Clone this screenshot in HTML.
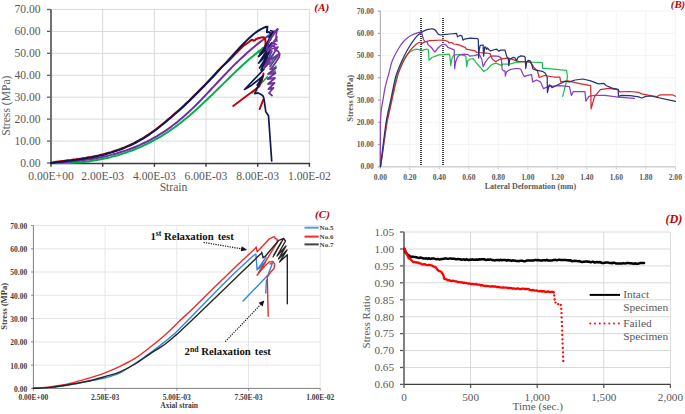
<!DOCTYPE html>
<html><head><meta charset="utf-8"><style>
html,body{margin:0;padding:0;background:#fff;}
body{width:685px;height:414px;overflow:hidden;}
svg{display:block;font-family:"Liberation Serif",serif;}
</style></head><body>
<svg width="685" height="414" viewBox="0 0 685 414">
<rect width="685" height="414" fill="#fff"/>
<line x1="51.0" y1="141.1" x2="309.4" y2="141.1" stroke="#d9d9d9" stroke-width="1" />
<line x1="51.0" y1="119.1" x2="309.4" y2="119.1" stroke="#d9d9d9" stroke-width="1" />
<line x1="51.0" y1="97.2" x2="309.4" y2="97.2" stroke="#d9d9d9" stroke-width="1" />
<line x1="51.0" y1="75.3" x2="309.4" y2="75.3" stroke="#d9d9d9" stroke-width="1" />
<line x1="51.0" y1="53.3" x2="309.4" y2="53.3" stroke="#d9d9d9" stroke-width="1" />
<line x1="51.0" y1="31.4" x2="309.4" y2="31.4" stroke="#d9d9d9" stroke-width="1" />
<line x1="51.0" y1="9.5" x2="309.4" y2="9.5" stroke="#d9d9d9" stroke-width="1" />
<line x1="102.7" y1="9.490000000000009" x2="102.7" y2="163.0" stroke="#d9d9d9" stroke-width="1" />
<line x1="154.4" y1="9.490000000000009" x2="154.4" y2="163.0" stroke="#d9d9d9" stroke-width="1" />
<line x1="206.0" y1="9.490000000000009" x2="206.0" y2="163.0" stroke="#d9d9d9" stroke-width="1" />
<line x1="257.7" y1="9.490000000000009" x2="257.7" y2="163.0" stroke="#d9d9d9" stroke-width="1" />
<line x1="309.4" y1="9.490000000000009" x2="309.4" y2="163.0" stroke="#d9d9d9" stroke-width="1" />
<line x1="47" y1="163.0" x2="51.0" y2="163.0" stroke="#5e5e5e" stroke-width="1.3" />
<text x="40.6" y="166.9" font-size="11.6" fill="#595959" text-anchor="end" font-weight="normal" font-style="normal" >0.00</text>
<line x1="47" y1="141.1" x2="51.0" y2="141.1" stroke="#5e5e5e" stroke-width="1.3" />
<text x="40.6" y="145.0" font-size="11.6" fill="#595959" text-anchor="end" font-weight="normal" font-style="normal" >10.00</text>
<line x1="47" y1="119.1" x2="51.0" y2="119.1" stroke="#5e5e5e" stroke-width="1.3" />
<text x="40.6" y="123.0" font-size="11.6" fill="#595959" text-anchor="end" font-weight="normal" font-style="normal" >20.00</text>
<line x1="47" y1="97.2" x2="51.0" y2="97.2" stroke="#5e5e5e" stroke-width="1.3" />
<text x="40.6" y="101.1" font-size="11.6" fill="#595959" text-anchor="end" font-weight="normal" font-style="normal" >30.00</text>
<line x1="47" y1="75.3" x2="51.0" y2="75.3" stroke="#5e5e5e" stroke-width="1.3" />
<text x="40.6" y="79.2" font-size="11.6" fill="#595959" text-anchor="end" font-weight="normal" font-style="normal" >40.00</text>
<line x1="47" y1="53.3" x2="51.0" y2="53.3" stroke="#5e5e5e" stroke-width="1.3" />
<text x="40.6" y="57.2" font-size="11.6" fill="#595959" text-anchor="end" font-weight="normal" font-style="normal" >50.00</text>
<line x1="47" y1="31.4" x2="51.0" y2="31.4" stroke="#5e5e5e" stroke-width="1.3" />
<text x="40.6" y="35.3" font-size="11.6" fill="#595959" text-anchor="end" font-weight="normal" font-style="normal" >60.00</text>
<line x1="47" y1="9.5" x2="51.0" y2="9.5" stroke="#5e5e5e" stroke-width="1.3" />
<text x="40.6" y="13.4" font-size="11.6" fill="#595959" text-anchor="end" font-weight="normal" font-style="normal" >70.00</text>
<line x1="51.0" y1="163.5" x2="51.0" y2="166.8" stroke="#3a3a3a" stroke-width="1.4" />
<text x="51.0" y="180.3" font-size="11.6" fill="#595959" text-anchor="middle" font-weight="normal" font-style="normal" >0.00E+00</text>
<line x1="102.7" y1="163.5" x2="102.7" y2="166.8" stroke="#3a3a3a" stroke-width="1.4" />
<text x="102.7" y="180.3" font-size="11.6" fill="#595959" text-anchor="middle" font-weight="normal" font-style="normal" >2.00E-03</text>
<line x1="154.4" y1="163.5" x2="154.4" y2="166.8" stroke="#3a3a3a" stroke-width="1.4" />
<text x="154.4" y="180.3" font-size="11.6" fill="#595959" text-anchor="middle" font-weight="normal" font-style="normal" >4.00E-03</text>
<line x1="206.0" y1="163.5" x2="206.0" y2="166.8" stroke="#3a3a3a" stroke-width="1.4" />
<text x="206.0" y="180.3" font-size="11.6" fill="#595959" text-anchor="middle" font-weight="normal" font-style="normal" >6.00E-03</text>
<line x1="257.7" y1="163.5" x2="257.7" y2="166.8" stroke="#3a3a3a" stroke-width="1.4" />
<text x="257.7" y="180.3" font-size="11.6" fill="#595959" text-anchor="middle" font-weight="normal" font-style="normal" >8.00E-03</text>
<line x1="309.4" y1="163.5" x2="309.4" y2="166.8" stroke="#3a3a3a" stroke-width="1.4" />
<text x="309.4" y="180.3" font-size="11.6" fill="#595959" text-anchor="middle" font-weight="normal" font-style="normal" >1.00E-02</text>
<line x1="51.0" y1="9.490000000000009" x2="51.0" y2="163.0" stroke="#6a6a6a" stroke-width="1.9" />
<line x1="50.0" y1="163.5" x2="310.2" y2="163.5" stroke="#3a3a3a" stroke-width="1.4" />
<text x="173.5" y="191.0" font-size="11.6" fill="#595959" text-anchor="middle" font-weight="normal" font-style="normal" >Strain</text>
<text x="0" y="0" font-size="11.6" fill="#595959" text-anchor="middle" font-weight="normal" font-style="normal" transform="translate(9.8,105.7) rotate(-90)">Stress (MPa)</text>
<text x="329.4" y="11.3" font-size="11.4" fill="#c00000" text-anchor="end" font-weight="bold" font-style="italic" >(A)</text>
<polyline points="51.0,163.0 53.5,163.1 56.0,163.1 58.5,163.1 61.0,163.1 63.5,163.1 66.0,163.1 68.5,163.0 71.0,162.9 73.5,162.7 76.0,162.6 78.5,162.4 81.0,162.2 83.5,161.9 86.0,161.7 88.5,161.4 91.0,161.0 93.5,160.6 96.0,160.2 98.5,159.8 101.0,159.3 103.5,158.8 106.0,158.3 108.5,157.7 111.0,157.1 113.5,156.4 116.0,155.7 118.5,155.0 121.0,154.2 123.6,153.4 126.1,152.5 128.7,151.6 131.2,150.7 133.8,149.7 136.4,148.7 138.9,147.6 141.5,146.5 144.0,145.3 146.6,144.1 149.1,142.8 151.7,141.5 154.3,140.2 156.8,138.7 159.4,137.3 161.9,135.8 164.4,134.2 166.9,132.6 169.4,131.0 171.9,129.2 174.4,127.5 176.9,125.6 179.4,123.8 181.9,121.8 184.4,119.8 186.9,117.8 189.4,115.7 191.9,113.5 194.4,111.3 196.9,109.1 199.4,106.8 201.9,104.4 204.4,102.1 206.9,99.7 209.4,97.3 211.9,94.9 214.4,92.4 216.9,90.0 219.4,87.5 221.9,85.1 224.4,82.6 226.9,80.2 229.4,77.7 231.9,75.3 234.4,72.9 236.9,70.5 239.4,68.2 241.9,65.8 244.4,63.6 246.9,61.3 249.4,59.1 251.9,57.0 254.4,54.9 256.9,52.9 259.4,50.9 261.9,49.0 263.9,47.5" fill="none" stroke="#00b050" stroke-width="2" stroke-linejoin="round" stroke-linecap="round" />
<polyline points="51.0,163.0 53.5,162.9 56.0,162.7 58.5,162.5 61.0,162.4 63.5,162.2 66.0,162.0 68.5,161.8 71.0,161.5 73.5,161.3 76.0,161.0 78.5,160.8 81.0,160.5 83.5,160.2 86.0,159.8 88.5,159.5 91.0,159.1 93.5,158.7 96.0,158.2 98.5,157.7 101.0,157.2 103.5,156.7 106.0,156.2 108.5,155.6 111.0,154.9 113.5,154.3 116.0,153.6 118.5,152.8 121.0,152.0 123.6,151.2 126.1,150.4 128.7,149.5 131.2,148.5 133.8,147.5 136.3,146.5 138.9,145.4 141.4,144.2 144.0,143.0 146.5,141.8 149.1,140.5 151.6,139.1 154.2,137.7 156.7,136.3 159.3,134.7 161.8,133.2 164.3,131.5 166.8,129.8 169.3,128.1 171.8,126.2 174.3,124.3 176.8,122.4 179.3,120.3 181.8,118.2 184.3,116.1 186.8,113.8 189.3,111.5 191.8,109.1 194.3,106.7 196.8,104.2 199.3,101.7 201.8,99.1 204.3,96.5 206.8,93.9 209.3,91.2 211.8,88.5 214.3,85.9 216.8,83.2 219.3,80.5 221.8,77.9 224.3,75.2 226.8,72.6 229.3,70.0 231.8,67.4 234.3,64.9 236.8,62.5 239.3,60.1 241.8,57.7 244.3,55.4 246.8,53.1 249.3,50.9 251.8,48.8 254.3,46.7 256.8,44.6 259.3,42.6 261.8,40.7 264.3,38.8 266.8,36.9 269.3,35.1 271.8,33.4 274.3,31.7 276.8,30.1 277.8,29.4" fill="none" stroke="#7030a0" stroke-width="2" stroke-linejoin="round" stroke-linecap="round" />
<polyline points="51.0,162.9 53.5,162.2 56.0,161.8 58.5,161.5 61.0,161.2 63.5,160.9 66.0,160.6 68.5,160.3 71.0,160.0 73.5,159.6 76.0,159.3 78.5,158.9 81.0,158.6 83.5,158.2 86.0,157.8 88.5,157.3 91.0,156.9 93.5,156.4 96.0,155.9 98.5,155.4 101.0,154.8 103.5,154.2 106.0,153.5 108.5,152.8 111.0,152.1 113.5,151.3 116.0,150.5 118.5,149.6 121.0,148.7 123.5,147.8 126.0,146.7 128.5,145.6 131.0,144.5 133.5,143.3 136.0,142.0 138.5,140.7 141.0,139.2 143.5,137.8 146.0,136.2 148.5,134.6 151.0,132.8 153.5,131.0 156.0,129.2 158.5,127.3 161.0,125.3 163.5,123.3 166.0,121.2 168.5,119.1 171.0,117.0 173.5,114.8 176.0,112.6 178.5,110.4 181.0,108.2 183.5,105.9 186.0,103.5 188.5,101.2 191.0,98.8 193.5,96.3 196.0,93.8 198.5,91.3 201.0,88.8 203.5,86.2 206.0,83.6 208.5,81.0 211.0,78.4 213.5,75.7 216.0,73.0 218.5,70.3 221.0,67.6 226.0,63.3 230.0,59.6 235.0,54.3 240.0,49.2 244.0,45.3 248.9,42.0 251.0,40.3 252.5,39.7 253.5,40.8 255.0,40.2 256.2,39.0 259.8,37.8 262.5,37.3 264.3,37.6 265.2,39.5 265.6,42.5 265.3,45.5 264.8,48.0" fill="none" stroke="#c00000" stroke-width="2" stroke-linejoin="round" stroke-linecap="round" />
<polyline points="51.0,163.0 53.5,162.7 56.0,162.3 58.5,162.0 61.0,161.7 63.5,161.4 66.0,161.1 68.5,160.8 71.0,160.5 73.5,160.1 76.0,159.8 78.5,159.4 81.0,159.1 83.5,158.7 86.0,158.3 88.5,157.8 91.0,157.4 93.5,156.9 96.0,156.4 98.5,155.9 101.0,155.3 103.5,154.7 106.0,154.0 108.5,153.3 111.0,152.6 113.5,151.8 116.0,151.0 118.5,150.1 121.0,149.2 123.5,148.3 126.0,147.2 128.5,146.1 131.0,145.0 133.5,143.8 136.0,142.5 138.5,141.2 141.0,139.7 143.5,138.3 146.0,136.7 148.5,135.1 151.0,133.3 153.5,131.5 156.0,129.7 158.5,127.8 161.0,125.8 163.5,123.8 166.0,121.7 168.5,119.6 171.0,117.5 173.5,115.3 176.0,113.1 178.5,110.9 181.0,108.7 183.5,106.4 186.0,104.0 188.5,101.7 191.0,99.3 193.5,96.8 196.0,94.3 198.5,91.8 201.0,89.3 203.5,86.7 206.0,84.1 208.5,81.5 211.0,78.9 213.5,76.2 216.0,73.5 218.5,70.8 221.0,68.1 223.5,65.4 226.0,62.7 228.5,60.0 231.0,57.2 233.5,54.5 236.0,51.7 238.5,49.0 241.0,46.3 243.5,43.7 246.0,41.1 248.5,38.7 251.0,36.4 253.5,34.3 256.0,32.3 258.5,30.6 261.0,29.1 263.5,27.9 265.0,27.3 266.3,26.8 267.4,26.7 266.9,32.3 268.9,32.0 270.8,33.5" fill="none" stroke="#0c1a50" stroke-width="2" stroke-linejoin="round" stroke-linecap="round" />
<polyline points="263.0,47.5 259.5,53.0" fill="none" stroke="#00b050" stroke-width="1.6" stroke-linejoin="round" stroke-linecap="round" />
<polyline points="273.5,54.5 268.5,59.5 275.0,57.0 269.5,64.5" fill="none" stroke="#00b050" stroke-width="1.6" stroke-linejoin="round" stroke-linecap="round" />
<polyline points="252.1,92.9 267.4,76.8" fill="none" stroke="#00b050" stroke-width="1.6" stroke-linejoin="round" stroke-linecap="round" />
<polyline points="276.0,66.0 270.0,73.0 275.5,71.0" fill="none" stroke="#00b050" stroke-width="1.4" stroke-linejoin="round" stroke-linecap="round" />
<polyline points="264.4,47.5 259.0,56.0 264.0,52.0" fill="none" stroke="#c00000" stroke-width="1.6" stroke-linejoin="round" stroke-linecap="round" />
<polyline points="268.9,59.5 264.7,67.3 266.5,62.0" fill="none" stroke="#c00000" stroke-width="1.8" stroke-linejoin="round" stroke-linecap="round" />
<polyline points="233.2,106.0 259.2,86.5 262.0,80.0 263.5,73.5" fill="none" stroke="#c00000" stroke-width="1.9" stroke-linejoin="round" stroke-linecap="round" />
<polyline points="259.7,109.0 263.2,99.8" fill="none" stroke="#c00000" stroke-width="2" stroke-linejoin="round" stroke-linecap="round" />
<polyline points="270.7,30.7 273.1,31.3 263.4,50.0 258.6,56.5 270.1,45.5 258.6,63.1 269.0,53.0 259.5,68.0 267.5,57.5 261.0,70.0 264.0,69.2 244.5,89.5 250.5,86.1 263.1,76.0 257.2,85.3 261.4,79.4 254.7,93.7 258.1,92.9 260.6,94.2 262.7,95.4 264.0,98.8 265.8,111.8 268.5,115.7 271.7,160.9" fill="none" stroke="#0c1a50" stroke-width="1.7" stroke-linejoin="round" stroke-linecap="round" />
<polyline points="272.5,33.4 268.9,37.1 271.5,36.0" fill="none" stroke="#0c1a50" stroke-width="1.6" stroke-linejoin="round" stroke-linecap="round" />
<polyline points="271.5,38.0 261.0,54.0 272.0,42.5 262.0,59.0 270.5,50.0 263.0,63.0" fill="none" stroke="#0c1a50" stroke-width="1.5" stroke-linejoin="round" stroke-linecap="round" />
<polyline points="277.3,29.2 274.9,32.8 269.5,40.1 266.5,50.0 274.3,45.0 274.9,49.8 277.9,51.0 279.7,54.0 279.1,57.0 276.1,61.9 273.1,66.1 270.1,69.1 276.0,68.0 268.0,74.0 275.5,73.0 267.5,79.0 275.0,78.0 268.0,84.0 274.5,83.0 268.5,89.0 273.5,88.0 269.0,93.0 272.0,95.5" fill="none" stroke="#7030a0" stroke-width="1.8" stroke-linejoin="round" stroke-linecap="round" />
<polyline points="276.1,40.7 273.1,43.1 276.5,44.5" fill="none" stroke="#7030a0" stroke-width="1.6" stroke-linejoin="round" stroke-linecap="round" />
<polyline points="271.9,51.0 264.0,68.0 270.0,62.0" fill="none" stroke="#7030a0" stroke-width="1.8" stroke-linejoin="round" stroke-linecap="round" />
<polyline points="277.3,29.2 276.0,36.0 277.0,41.0" fill="none" stroke="#7030a0" stroke-width="1.6" stroke-linejoin="round" stroke-linecap="round" />
<polyline points="277.0,37.0 268.0,50.0 278.0,47.0 268.5,61.0 279.0,54.0 270.0,66.5" fill="none" stroke="#7030a0" stroke-width="1.7" stroke-linejoin="round" stroke-linecap="round" />
<line x1="380.3" y1="144.6" x2="675.3" y2="144.6" stroke="#f3f3f3" stroke-width="1" />
<line x1="380.3" y1="122.3" x2="675.3" y2="122.3" stroke="#f3f3f3" stroke-width="1" />
<line x1="380.3" y1="100.1" x2="675.3" y2="100.1" stroke="#f3f3f3" stroke-width="1" />
<line x1="380.3" y1="77.8" x2="675.3" y2="77.8" stroke="#f3f3f3" stroke-width="1" />
<line x1="380.3" y1="55.6" x2="675.3" y2="55.6" stroke="#f3f3f3" stroke-width="1" />
<line x1="380.3" y1="33.3" x2="675.3" y2="33.3" stroke="#f3f3f3" stroke-width="1" />
<line x1="380.3" y1="11.1" x2="675.3" y2="11.1" stroke="#f3f3f3" stroke-width="1" />
<line x1="409.8" y1="11.050000000000011" x2="409.8" y2="166.8" stroke="#f3f3f3" stroke-width="1" />
<line x1="439.3" y1="11.050000000000011" x2="439.3" y2="166.8" stroke="#f3f3f3" stroke-width="1" />
<line x1="468.8" y1="11.050000000000011" x2="468.8" y2="166.8" stroke="#f3f3f3" stroke-width="1" />
<line x1="498.3" y1="11.050000000000011" x2="498.3" y2="166.8" stroke="#f3f3f3" stroke-width="1" />
<line x1="527.8" y1="11.050000000000011" x2="527.8" y2="166.8" stroke="#f3f3f3" stroke-width="1" />
<line x1="557.3" y1="11.050000000000011" x2="557.3" y2="166.8" stroke="#f3f3f3" stroke-width="1" />
<line x1="586.8" y1="11.050000000000011" x2="586.8" y2="166.8" stroke="#f3f3f3" stroke-width="1" />
<line x1="616.3" y1="11.050000000000011" x2="616.3" y2="166.8" stroke="#f3f3f3" stroke-width="1" />
<line x1="645.8" y1="11.050000000000011" x2="645.8" y2="166.8" stroke="#f3f3f3" stroke-width="1" />
<line x1="675.3" y1="11.050000000000011" x2="675.3" y2="166.8" stroke="#f3f3f3" stroke-width="1" />
<line x1="377.8" y1="166.8" x2="380.3" y2="166.8" stroke="#8c8c8c" stroke-width="0.9" />
<text x="373.9" y="169.4" font-size="7.6" fill="#595959" text-anchor="end" font-weight="bold" font-style="normal" >0.00</text>
<line x1="377.8" y1="144.6" x2="380.3" y2="144.6" stroke="#8c8c8c" stroke-width="0.9" />
<text x="373.9" y="147.2" font-size="7.6" fill="#595959" text-anchor="end" font-weight="bold" font-style="normal" >10.00</text>
<line x1="377.8" y1="122.3" x2="380.3" y2="122.3" stroke="#8c8c8c" stroke-width="0.9" />
<text x="373.9" y="124.9" font-size="7.6" fill="#595959" text-anchor="end" font-weight="bold" font-style="normal" >20.00</text>
<line x1="377.8" y1="100.1" x2="380.3" y2="100.1" stroke="#8c8c8c" stroke-width="0.9" />
<text x="373.9" y="102.7" font-size="7.6" fill="#595959" text-anchor="end" font-weight="bold" font-style="normal" >30.00</text>
<line x1="377.8" y1="77.8" x2="380.3" y2="77.8" stroke="#8c8c8c" stroke-width="0.9" />
<text x="373.9" y="80.4" font-size="7.6" fill="#595959" text-anchor="end" font-weight="bold" font-style="normal" >40.00</text>
<line x1="377.8" y1="55.6" x2="380.3" y2="55.6" stroke="#8c8c8c" stroke-width="0.9" />
<text x="373.9" y="58.2" font-size="7.6" fill="#595959" text-anchor="end" font-weight="bold" font-style="normal" >50.00</text>
<line x1="377.8" y1="33.3" x2="380.3" y2="33.3" stroke="#8c8c8c" stroke-width="0.9" />
<text x="373.9" y="35.9" font-size="7.6" fill="#595959" text-anchor="end" font-weight="bold" font-style="normal" >60.00</text>
<line x1="377.8" y1="11.1" x2="380.3" y2="11.1" stroke="#8c8c8c" stroke-width="0.9" />
<text x="373.9" y="13.7" font-size="7.6" fill="#595959" text-anchor="end" font-weight="bold" font-style="normal" >70.00</text>
<line x1="380.3" y1="166.8" x2="380.3" y2="169.3" stroke="#c8c8c8" stroke-width="1" />
<text x="380.3" y="179.9" font-size="7.6" fill="#595959" text-anchor="middle" font-weight="bold" font-style="normal" >0.00</text>
<line x1="409.8" y1="166.8" x2="409.8" y2="169.3" stroke="#c8c8c8" stroke-width="1" />
<text x="409.8" y="179.9" font-size="7.6" fill="#595959" text-anchor="middle" font-weight="bold" font-style="normal" >0.20</text>
<line x1="439.3" y1="166.8" x2="439.3" y2="169.3" stroke="#c8c8c8" stroke-width="1" />
<text x="439.3" y="179.9" font-size="7.6" fill="#595959" text-anchor="middle" font-weight="bold" font-style="normal" >0.40</text>
<line x1="468.8" y1="166.8" x2="468.8" y2="169.3" stroke="#c8c8c8" stroke-width="1" />
<text x="468.8" y="179.9" font-size="7.6" fill="#595959" text-anchor="middle" font-weight="bold" font-style="normal" >0.60</text>
<line x1="498.3" y1="166.8" x2="498.3" y2="169.3" stroke="#c8c8c8" stroke-width="1" />
<text x="498.3" y="179.9" font-size="7.6" fill="#595959" text-anchor="middle" font-weight="bold" font-style="normal" >0.80</text>
<line x1="527.8" y1="166.8" x2="527.8" y2="169.3" stroke="#c8c8c8" stroke-width="1" />
<text x="527.8" y="179.9" font-size="7.6" fill="#595959" text-anchor="middle" font-weight="bold" font-style="normal" >1.00</text>
<line x1="557.3" y1="166.8" x2="557.3" y2="169.3" stroke="#c8c8c8" stroke-width="1" />
<text x="557.3" y="179.9" font-size="7.6" fill="#595959" text-anchor="middle" font-weight="bold" font-style="normal" >1.20</text>
<line x1="586.8" y1="166.8" x2="586.8" y2="169.3" stroke="#c8c8c8" stroke-width="1" />
<text x="586.8" y="179.9" font-size="7.6" fill="#595959" text-anchor="middle" font-weight="bold" font-style="normal" >1.40</text>
<line x1="616.3" y1="166.8" x2="616.3" y2="169.3" stroke="#c8c8c8" stroke-width="1" />
<text x="616.3" y="179.9" font-size="7.6" fill="#595959" text-anchor="middle" font-weight="bold" font-style="normal" >1.60</text>
<line x1="645.8" y1="166.8" x2="645.8" y2="169.3" stroke="#c8c8c8" stroke-width="1" />
<text x="645.8" y="179.9" font-size="7.6" fill="#595959" text-anchor="middle" font-weight="bold" font-style="normal" >1.80</text>
<line x1="675.3" y1="166.8" x2="675.3" y2="169.3" stroke="#c8c8c8" stroke-width="1" />
<text x="675.3" y="179.9" font-size="7.6" fill="#595959" text-anchor="middle" font-weight="bold" font-style="normal" >2.00</text>
<line x1="380.3" y1="11.050000000000011" x2="380.3" y2="166.8" stroke="#a6a6a6" stroke-width="1" />
<line x1="378" y1="166.8" x2="675.3" y2="166.8" stroke="#d0d0d0" stroke-width="1.6" />
<text x="530.4" y="189.3" font-size="8" fill="#595959" text-anchor="middle" font-weight="bold" font-style="normal" >Lateral Deformation (mm)</text>
<text x="0" y="0" font-size="8.5" fill="#595959" text-anchor="middle" font-weight="bold" font-style="normal" transform="translate(353.3,98.4) rotate(-90)">Stress (MPa)</text>
<text x="685.2" y="7.7" font-size="10.8" fill="#c00000" text-anchor="end" font-weight="bold" font-style="italic" >(B)</text>
<line x1="421.0" y1="18" x2="421.0" y2="166" stroke="#000" stroke-width="1.5" stroke-dasharray="1,1"/>
<line x1="443.0" y1="18" x2="443.0" y2="166" stroke="#000" stroke-width="1.5" stroke-dasharray="1,1"/>
<path d="M380.50,166.70 C380.75,165.08 381.48,160.62 382.00,157.00 C382.52,153.38 383.07,148.92 383.60,145.00 C384.13,141.08 384.70,137.28 385.20,133.50 C385.70,129.72 385.97,126.05 386.60,122.30 C387.23,118.55 388.22,114.65 389.00,111.00 C389.78,107.35 390.50,104.07 391.30,100.40 C392.10,96.73 392.95,92.83 393.80,89.00 C394.65,85.17 395.70,80.07 396.40,77.40 C397.10,74.73 396.70,76.10 398.00,73.00 C399.30,69.90 402.17,62.37 404.20,58.80 C406.23,55.23 409.20,52.80 410.20,51.60" fill="none" stroke="#1fbf4f" stroke-width="1.25" stroke-linejoin="round" stroke-linecap="round" />
<polyline points="410.2,51.6 413.8,49.8 416.2,49.2 419.9,49.8 421.1,49.2 422.3,51.0 423.5,49.8 427.1,49.2 428.3,49.8 429.1,60.2 432.0,57.5 438.8,54.8 443.0,54.6 448.9,54.1 449.8,56.1 450.8,65.7 451.8,59.0 453.7,55.1 457.5,54.6 460.4,54.6 464.3,55.6 465.8,56.1 466.7,66.7 467.7,60.9 470.1,59.0 473.0,58.5 474.9,60.9 476.9,63.8 479.7,66.7 483.8,71.5 487.0,69.5 490.0,66.1 492.9,64.1 495.8,63.2 499.7,64.6 501.6,65.6 502.5,64.1 509.3,64.1 515.1,62.7 523.8,61.7 530.5,62.2 540.0,62.4 542.4,62.6 542.4,68.4 546.3,68.4 566.5,70.3 567.5,77.0 562.7,96.4" fill="none" stroke="#1fbf4f" stroke-width="1.25" stroke-linejoin="round" stroke-linecap="round" />
<path d="M380.30,166.70 C380.30,163.92 380.28,155.28 380.30,150.00 C380.32,144.72 380.38,139.62 380.40,135.00 C380.42,130.38 380.25,126.47 380.40,122.30 C380.55,118.13 380.88,113.65 381.30,110.00 C381.72,106.35 382.28,104.07 382.90,100.40 C383.52,96.73 384.20,91.83 385.00,88.00 C385.80,84.17 387.12,79.57 387.70,77.40 C388.28,75.23 387.77,77.70 388.50,75.00 C389.23,72.30 390.50,65.50 392.10,61.20 C393.70,56.90 396.08,52.62 398.10,49.20 C400.12,45.78 401.98,43.02 404.20,40.70 C406.42,38.38 408.78,36.72 411.40,35.30 C414.02,33.88 418.22,32.72 419.90,32.20 C421.58,31.68 420.90,30.98 421.50,32.20 C422.10,33.42 423.17,38.28 423.50,39.50" fill="none" stroke="#8a3fc6" stroke-width="1.25" stroke-linejoin="round" stroke-linecap="round" />
<polyline points="423.5,39.5 424.7,41.3 427.1,41.9 428.3,44.9 431.0,47.0 434.9,52.1 438.0,48.0 441.7,44.8 443.0,44.5 445.0,44.3 446.9,45.9 447.9,47.4 451.8,48.8 454.2,49.8 454.7,68.6 455.6,61.9 457.5,57.0 460.4,54.6 464.3,54.1 468.2,54.6 469.6,56.1 474.0,55.6 477.8,54.6 479.7,55.1 481.7,59.0 483.1,66.7 485.5,61.9 488.4,58.0 491.3,56.1 493.9,55.9 498.7,56.4 501.1,57.9 501.6,61.7 502.1,69.0 503.5,70.9 505.0,70.9 505.4,76.2 506.4,71.9 509.3,69.9 515.1,68.5 519.0,68.5 520.9,69.4 522.8,73.8 524.3,76.7 526.7,75.7 531.5,74.7 532.7,81.9 536.6,80.0 540.5,81.9 543.4,88.6 548.2,86.7 559.8,85.7 569.4,86.7 571.4,95.4 573.3,91.5 584.9,91.5 585.9,101.2 588.8,96.4 594.6,95.4 605.0,95.4 618.1,97.2 634.4,98.4" fill="none" stroke="#8a3fc6" stroke-width="1.25" stroke-linejoin="round" stroke-linecap="round" />
<path d="M380.50,166.70 C380.75,165.08 381.45,160.78 382.00,157.00 C382.55,153.22 383.23,148.00 383.80,144.00 C384.37,140.00 384.85,136.62 385.40,133.00 C385.95,129.38 386.42,125.97 387.10,122.30 C387.78,118.63 388.70,114.65 389.50,111.00 C390.30,107.35 391.07,104.15 391.90,100.40 C392.73,96.65 393.60,92.33 394.50,88.50 C395.40,84.67 396.63,79.98 397.30,77.40 C397.97,74.82 397.35,75.90 398.50,73.00 C399.65,70.10 402.25,63.77 404.20,60.00 C406.15,56.23 408.20,53.02 410.20,50.40 C412.20,47.78 414.58,45.65 416.20,44.30 C417.82,42.95 418.98,42.40 419.90,42.30 C420.82,42.20 421.40,43.47 421.70,43.70" fill="none" stroke="#d42a2a" stroke-width="1.25" stroke-linejoin="round" stroke-linecap="round" />
<polyline points="421.7,43.7 424.7,41.9 430.0,40.7 443.0,40.0 447.9,41.3 448.9,42.8 451.8,42.5 453.7,44.0 456.6,44.3 460.4,45.4 462.4,46.4 465.3,47.4 466.2,49.1 470.1,49.8 474.9,50.8 476.9,52.5 486.5,53.2 490.0,53.5 491.4,56.9 492.4,59.3 495.8,61.7 499.7,59.3 504.5,58.3 509.3,58.3 515.1,60.3 519.0,61.7 528.1,61.7 530.5,62.7 532.5,65.1 534.4,68.0 537.3,70.9 538.3,73.8 539.2,77.5 544.3,75.5 554.0,77.0 559.8,77.0 560.7,81.9 567.5,80.9 581.0,83.8 590.7,85.7 591.1,108.9 594.6,96.4 600.4,89.6 608.5,88.4 618.1,89.6 619.9,91.8 630.2,91.5 638.7,92.4 641.7,93.9 650.8,95.6 656.8,96.6 660.4,94.8 672.5,94.8 675.5,96.3" fill="none" stroke="#d42a2a" stroke-width="1.25" stroke-linejoin="round" stroke-linecap="round" />
<path d="M380.40,166.70 C380.58,165.25 381.07,161.45 381.50,158.00 C381.93,154.55 382.50,150.00 383.00,146.00 C383.50,142.00 383.98,137.95 384.50,134.00 C385.02,130.05 385.47,126.13 386.10,122.30 C386.73,118.47 387.53,114.65 388.30,111.00 C389.07,107.35 389.92,104.07 390.70,100.40 C391.48,96.73 392.20,92.83 393.00,89.00 C393.80,85.17 394.78,80.23 395.50,77.40 C396.22,74.57 396.27,74.70 397.30,72.00 C398.33,69.30 399.95,65.00 401.70,61.20 C403.45,57.40 405.58,53.02 407.80,49.20 C410.02,45.38 412.78,41.07 415.00,38.30 C417.22,35.53 419.12,34.05 421.10,32.60 C423.08,31.15 425.37,30.20 426.90,29.60 C428.43,29.00 429.17,29.07 430.30,29.00 C431.43,28.93 432.80,28.93 433.70,29.20 C434.60,29.47 435.37,30.37 435.70,30.60" fill="none" stroke="#24347a" stroke-width="1.25" stroke-linejoin="round" stroke-linecap="round" />
<polyline points="435.7,30.6 438.4,34.3 440.5,35.0 443.8,34.7 450.0,34.0 456.6,33.4 457.5,36.8 460.4,35.3 461.9,35.8 462.9,40.1 464.3,39.2 470.1,38.2 477.8,38.7 478.3,39.7 478.7,58.0 479.3,49.3 480.2,45.4 483.1,45.0 483.6,56.1 484.6,47.4 485.5,46.9 486.5,49.3 487.5,47.9 488.9,49.8 490.4,50.8 495.0,49.5 496.8,49.2 498.7,51.1 500.6,50.1 505.0,50.1 505.9,53.5 506.9,56.9 508.3,57.9 508.8,65.6 509.8,59.3 513.2,57.4 515.1,57.9 516.5,60.8 518.0,57.4 520.9,55.9 524.3,56.4 525.2,57.4 525.7,68.5 526.7,62.2 528.1,60.3 530.1,60.8 531.5,63.6 533.0,69.0 535.4,69.9 540.0,70.9 542.4,71.3 545.3,73.2 547.2,77.0 547.4,92.5 549.2,84.8 551.1,85.7 552.0,87.7 555.9,85.7 559.8,83.8 565.6,81.3 569.4,81.9 575.2,80.0 583.0,79.0 590.7,80.9 598.4,83.8 603.6,83.3 606.0,85.5 612.1,88.1 618.1,89.3 618.5,96.3 621.8,95.4 630.2,95.6 638.7,96.8 641.7,98.0 645.9,96.3 650.8,96.0 675.5,101.4" fill="none" stroke="#24347a" stroke-width="1.25" stroke-linejoin="round" stroke-linecap="round" />
<line x1="33.4" y1="365.1" x2="320.3" y2="365.1" stroke="#e6e6e6" stroke-width="1" />
<line x1="33.4" y1="341.9" x2="320.3" y2="341.9" stroke="#e6e6e6" stroke-width="1" />
<line x1="33.4" y1="318.6" x2="320.3" y2="318.6" stroke="#e6e6e6" stroke-width="1" />
<line x1="33.4" y1="295.3" x2="320.3" y2="295.3" stroke="#e6e6e6" stroke-width="1" />
<line x1="33.4" y1="272.0" x2="320.3" y2="272.0" stroke="#e6e6e6" stroke-width="1" />
<line x1="33.4" y1="248.8" x2="320.3" y2="248.8" stroke="#e6e6e6" stroke-width="1" />
<line x1="33.4" y1="225.5" x2="320.3" y2="225.5" stroke="#e6e6e6" stroke-width="1" />
<line x1="105.1" y1="225.51" x2="105.1" y2="388.4" stroke="#e6e6e6" stroke-width="1" />
<line x1="176.8" y1="225.51" x2="176.8" y2="388.4" stroke="#e6e6e6" stroke-width="1" />
<line x1="248.5" y1="225.51" x2="248.5" y2="388.4" stroke="#e6e6e6" stroke-width="1" />
<line x1="320.2" y1="225.51" x2="320.2" y2="388.4" stroke="#e6e6e6" stroke-width="1" />
<line x1="31" y1="388.4" x2="33.4" y2="388.4" stroke="#7f7f7f" stroke-width="0.9" />
<text x="27.2" y="391.8" font-size="7.5" fill="#404040" text-anchor="end" font-weight="bold" font-style="normal" >0.00</text>
<line x1="31" y1="365.1" x2="33.4" y2="365.1" stroke="#7f7f7f" stroke-width="0.9" />
<text x="27.2" y="368.5" font-size="7.5" fill="#404040" text-anchor="end" font-weight="bold" font-style="normal" >10.00</text>
<line x1="31" y1="341.9" x2="33.4" y2="341.9" stroke="#7f7f7f" stroke-width="0.9" />
<text x="27.2" y="345.3" font-size="7.5" fill="#404040" text-anchor="end" font-weight="bold" font-style="normal" >20.00</text>
<line x1="31" y1="318.6" x2="33.4" y2="318.6" stroke="#7f7f7f" stroke-width="0.9" />
<text x="27.2" y="322.0" font-size="7.5" fill="#404040" text-anchor="end" font-weight="bold" font-style="normal" >30.00</text>
<line x1="31" y1="295.3" x2="33.4" y2="295.3" stroke="#7f7f7f" stroke-width="0.9" />
<text x="27.2" y="298.7" font-size="7.5" fill="#404040" text-anchor="end" font-weight="bold" font-style="normal" >40.00</text>
<line x1="31" y1="272.0" x2="33.4" y2="272.0" stroke="#7f7f7f" stroke-width="0.9" />
<text x="27.2" y="275.4" font-size="7.5" fill="#404040" text-anchor="end" font-weight="bold" font-style="normal" >50.00</text>
<line x1="31" y1="248.8" x2="33.4" y2="248.8" stroke="#7f7f7f" stroke-width="0.9" />
<text x="27.2" y="252.2" font-size="7.5" fill="#404040" text-anchor="end" font-weight="bold" font-style="normal" >60.00</text>
<line x1="31" y1="225.5" x2="33.4" y2="225.5" stroke="#7f7f7f" stroke-width="0.9" />
<text x="27.2" y="228.9" font-size="7.5" fill="#404040" text-anchor="end" font-weight="bold" font-style="normal" >70.00</text>
<line x1="33.4" y1="388.4" x2="33.4" y2="390.6" stroke="#7f7f7f" stroke-width="0.9" />
<text x="33.4" y="399.8" font-size="7.5" fill="#404040" text-anchor="middle" font-weight="bold" font-style="normal" >0.00E+00</text>
<line x1="105.1" y1="388.4" x2="105.1" y2="390.6" stroke="#7f7f7f" stroke-width="0.9" />
<text x="105.1" y="399.8" font-size="7.5" fill="#404040" text-anchor="middle" font-weight="bold" font-style="normal" >2.50E-03</text>
<line x1="176.8" y1="388.4" x2="176.8" y2="390.6" stroke="#7f7f7f" stroke-width="0.9" />
<text x="176.8" y="399.8" font-size="7.5" fill="#404040" text-anchor="middle" font-weight="bold" font-style="normal" >5.00E-03</text>
<line x1="248.5" y1="388.4" x2="248.5" y2="390.6" stroke="#7f7f7f" stroke-width="0.9" />
<text x="248.5" y="399.8" font-size="7.5" fill="#404040" text-anchor="middle" font-weight="bold" font-style="normal" >7.50E-03</text>
<line x1="320.2" y1="388.4" x2="320.2" y2="390.6" stroke="#7f7f7f" stroke-width="0.9" />
<text x="320.2" y="399.8" font-size="7.5" fill="#404040" text-anchor="middle" font-weight="bold" font-style="normal" >1.00E-02</text>
<line x1="33.4" y1="225.51" x2="33.4" y2="388.4" stroke="#7f7f7f" stroke-width="1" />
<line x1="33.4" y1="388.4" x2="320.3" y2="388.4" stroke="#7f7f7f" stroke-width="1" />
<text x="179.2" y="408.2" font-size="7.5" fill="#404040" text-anchor="middle" font-weight="bold" font-style="normal" >Axial strain</text>
<text x="0" y="0" font-size="8.5" fill="#404040" text-anchor="middle" font-weight="bold" font-style="normal" transform="translate(7.2,306.4) rotate(-90)">Stress (MPa)</text>
<text x="329.9" y="217.8" font-size="11.2" fill="#c00000" text-anchor="end" font-weight="bold" font-style="italic" >(C)</text>
<line x1="304.5" y1="227.7" x2="318.7" y2="227.7" stroke="#5b9bd5" stroke-width="2" />
<line x1="304.5" y1="236.6" x2="318.7" y2="236.6" stroke="#ee2a2a" stroke-width="2" />
<line x1="304.5" y1="244.4" x2="318.7" y2="244.4" stroke="#404040" stroke-width="2" />
<text x="319.6" y="230.2" font-size="7" fill="#404040" text-anchor="start" font-weight="bold" font-style="normal" >No.5</text>
<text x="319.6" y="239.1" font-size="7" fill="#404040" text-anchor="start" font-weight="bold" font-style="normal" >No.6</text>
<text x="319.6" y="246.9" font-size="7" fill="#404040" text-anchor="start" font-weight="bold" font-style="normal" >No.7</text>
<text x="150.4" y="239.8" font-size="10.75" font-weight="bold" fill="#111">1<tspan font-size="7.8" dy="-3.6">st</tspan><tspan dy="3.6"> Relaxation </tspan><tspan dx="1.3">test</tspan></text>
<text x="184.5" y="355.1" font-size="10.75" font-weight="bold" fill="#111">2<tspan font-size="7.8" dy="-3.6">nd</tspan><tspan dy="3.6"> Relaxation </tspan><tspan dx="1.3">test</tspan></text>
<line x1="203.6" y1="242.4" x2="242" y2="248.9" stroke="#111" stroke-width="1.2" stroke-dasharray="1.2,1.2"/>
<polygon points="247.2,249.9 240.8,251.2 241.7,246.2" fill="#111"/>
<line x1="225.3" y1="341.6" x2="260.6" y2="304.6" stroke="#111" stroke-width="1.2" stroke-dasharray="1.2,1.2"/>
<polygon points="264.3,300.5 262.6,306.5 258.6,302.8" fill="#111"/>
<path d="M33.40,388.30 C36.17,388.18 43.90,388.18 50.00,387.60 C56.10,387.02 63.33,385.90 70.00,384.80 C76.67,383.70 84.08,382.17 90.00,381.00 C95.92,379.83 100.50,379.15 105.50,377.80 C110.50,376.45 115.08,375.27 120.00,372.90 C124.92,370.53 130.00,366.90 135.00,363.60 C140.00,360.30 145.00,356.77 150.00,353.10 C155.00,349.43 161.12,344.65 165.00,341.60 C168.88,338.55 170.80,337.03 173.30,334.80 C175.80,332.57 176.38,331.83 180.00,328.20 C183.62,324.57 186.67,321.43 195.00,313.00 C203.33,304.57 220.00,287.40 230.00,277.60 C240.00,267.80 250.83,258.10 255.00,254.20" fill="none" stroke="#3388d4" stroke-width="1.4" stroke-linejoin="round" stroke-linecap="round" />
<polyline points="255.9,254.2 257.1,269.9 266.1,257.2 259.0,268.5 265.5,262.0 258.5,273.0 264.0,267.0" fill="none" stroke="#3388d4" stroke-width="1.4" stroke-linejoin="round" stroke-linecap="round" />
<polyline points="243.1,301.1 268.0,275.0 272.5,263.0 270.0,264.0" fill="none" stroke="#3388d4" stroke-width="1.4" stroke-linejoin="round" stroke-linecap="round" />
<polyline points="266.5,280.0 265.7,293.1" fill="none" stroke="#3388d4" stroke-width="1.4" stroke-linejoin="round" stroke-linecap="round" />
<path d="M33.40,388.30 C36.17,388.07 43.90,387.70 50.00,386.90 C56.10,386.10 63.33,385.02 70.00,383.50 C76.67,381.98 84.08,379.62 90.00,377.80 C95.92,375.98 100.50,374.52 105.50,372.60 C110.50,370.68 115.08,368.67 120.00,366.30 C124.92,363.93 130.00,361.57 135.00,358.40 C140.00,355.23 145.00,351.22 150.00,347.30 C155.00,343.38 160.00,339.35 165.00,334.90 C170.00,330.45 175.00,325.35 180.00,320.60 C185.00,315.85 186.67,314.47 195.00,306.40 C203.33,298.33 219.80,282.02 230.00,272.20 C240.20,262.38 251.83,251.62 256.20,247.50" fill="none" stroke="#ee2a2a" stroke-width="1.4" stroke-linejoin="round" stroke-linecap="round" />
<polyline points="256.2,247.0 257.1,251.7 258.9,249.9 269.2,239.1 272.8,237.2 274.6,236.6 275.2,238.5 277.0,239.1 277.4,242.1 257.1,275.3 263.1,267.4 269.2,262.0 272.8,261.4 274.6,263.8 274.0,268.6 271.0,271.7 267.3,277.1 267.6,290.0 268.2,316.2" fill="none" stroke="#ee2a2a" stroke-width="1.4" stroke-linejoin="round" stroke-linecap="round" />
<path d="M33.40,388.30 C36.17,388.15 43.90,388.03 50.00,387.40 C56.10,386.77 63.33,385.62 70.00,384.50 C76.67,383.38 84.08,382.05 90.00,380.70 C95.92,379.35 100.50,377.88 105.50,376.40 C110.50,374.92 115.08,373.87 120.00,371.80 C124.92,369.73 130.00,367.00 135.00,364.00 C140.00,361.00 145.00,357.10 150.00,353.80 C155.00,350.50 160.58,347.40 165.00,344.20 C169.42,341.00 174.00,336.73 176.50,334.60 C179.00,332.47 176.92,334.30 180.00,331.40 C183.08,328.50 186.67,325.18 195.00,317.20 C203.33,309.22 218.88,294.22 230.00,283.50 C241.12,272.78 256.42,258.00 261.70,252.90" fill="none" stroke="#262626" stroke-width="1.4" stroke-linejoin="round" stroke-linecap="round" />
<polyline points="261.7,252.3 263.1,257.8 265.5,256.0 278.8,240.3 283.6,238.5 274.0,254.8" fill="none" stroke="#262626" stroke-width="1.4" stroke-linejoin="round" stroke-linecap="round" />
<polyline points="283.6,238.5 285.5,241.0 277.0,256.0 286.0,246.0 278.5,259.0 287.0,250.0 279.5,262.0 287.3,254.8 287.3,303.7" fill="none" stroke="#262626" stroke-width="1.4" stroke-linejoin="round" stroke-linecap="round" />
<polyline points="281.0,242.5 273.0,257.0" fill="none" stroke="#262626" stroke-width="1.2" stroke-linejoin="round" stroke-linecap="round" />
<line x1="404.0" y1="367.5" x2="670.4" y2="367.5" stroke="#d9d9d9" stroke-width="1" />
<line x1="404.0" y1="350.5" x2="670.4" y2="350.5" stroke="#d9d9d9" stroke-width="1" />
<line x1="404.0" y1="333.6" x2="670.4" y2="333.6" stroke="#d9d9d9" stroke-width="1" />
<line x1="404.0" y1="316.7" x2="670.4" y2="316.7" stroke="#d9d9d9" stroke-width="1" />
<line x1="404.0" y1="299.8" x2="670.4" y2="299.8" stroke="#d9d9d9" stroke-width="1" />
<line x1="404.0" y1="282.8" x2="670.4" y2="282.8" stroke="#d9d9d9" stroke-width="1" />
<line x1="404.0" y1="265.9" x2="670.4" y2="265.9" stroke="#d9d9d9" stroke-width="1" />
<line x1="404.0" y1="249.0" x2="670.4" y2="249.0" stroke="#d9d9d9" stroke-width="1" />
<line x1="404.0" y1="232.0" x2="670.4" y2="232.0" stroke="#d9d9d9" stroke-width="1" />
<line x1="470.6" y1="232.02999999999997" x2="470.6" y2="384.4" stroke="#d9d9d9" stroke-width="1" />
<line x1="537.2" y1="232.02999999999997" x2="537.2" y2="384.4" stroke="#d9d9d9" stroke-width="1" />
<line x1="603.8" y1="232.02999999999997" x2="603.8" y2="384.4" stroke="#d9d9d9" stroke-width="1" />
<line x1="670.4" y1="232.02999999999997" x2="670.4" y2="384.4" stroke="#d9d9d9" stroke-width="1" />
<line x1="400" y1="384.4" x2="404.0" y2="384.4" stroke="#595959" stroke-width="1.3" />
<text x="394.0" y="388.2" font-size="11.2" fill="#595959" text-anchor="end" font-weight="normal" font-style="normal" >0.60</text>
<line x1="400" y1="367.5" x2="404.0" y2="367.5" stroke="#595959" stroke-width="1.3" />
<text x="394.0" y="371.3" font-size="11.2" fill="#595959" text-anchor="end" font-weight="normal" font-style="normal" >0.65</text>
<line x1="400" y1="350.5" x2="404.0" y2="350.5" stroke="#595959" stroke-width="1.3" />
<text x="394.0" y="354.3" font-size="11.2" fill="#595959" text-anchor="end" font-weight="normal" font-style="normal" >0.70</text>
<line x1="400" y1="333.6" x2="404.0" y2="333.6" stroke="#595959" stroke-width="1.3" />
<text x="394.0" y="337.4" font-size="11.2" fill="#595959" text-anchor="end" font-weight="normal" font-style="normal" >0.75</text>
<line x1="400" y1="316.7" x2="404.0" y2="316.7" stroke="#595959" stroke-width="1.3" />
<text x="394.0" y="320.5" font-size="11.2" fill="#595959" text-anchor="end" font-weight="normal" font-style="normal" >0.80</text>
<line x1="400" y1="299.8" x2="404.0" y2="299.8" stroke="#595959" stroke-width="1.3" />
<text x="394.0" y="303.6" font-size="11.2" fill="#595959" text-anchor="end" font-weight="normal" font-style="normal" >0.85</text>
<line x1="400" y1="282.8" x2="404.0" y2="282.8" stroke="#595959" stroke-width="1.3" />
<text x="394.0" y="286.6" font-size="11.2" fill="#595959" text-anchor="end" font-weight="normal" font-style="normal" >0.90</text>
<line x1="400" y1="265.9" x2="404.0" y2="265.9" stroke="#595959" stroke-width="1.3" />
<text x="394.0" y="269.7" font-size="11.2" fill="#595959" text-anchor="end" font-weight="normal" font-style="normal" >0.95</text>
<line x1="400" y1="249.0" x2="404.0" y2="249.0" stroke="#595959" stroke-width="1.3" />
<text x="394.0" y="252.8" font-size="11.2" fill="#595959" text-anchor="end" font-weight="normal" font-style="normal" >1.00</text>
<line x1="400" y1="232.0" x2="404.0" y2="232.0" stroke="#595959" stroke-width="1.3" />
<text x="394.0" y="235.8" font-size="11.2" fill="#595959" text-anchor="end" font-weight="normal" font-style="normal" >1.05</text>
<line x1="404.0" y1="384.4" x2="404.0" y2="388" stroke="#595959" stroke-width="1.3" />
<text x="404.0" y="401.0" font-size="11.2" fill="#595959" text-anchor="middle" font-weight="normal" font-style="normal" >0</text>
<line x1="470.6" y1="384.4" x2="470.6" y2="388" stroke="#595959" stroke-width="1.3" />
<text x="470.6" y="401.0" font-size="11.2" fill="#595959" text-anchor="middle" font-weight="normal" font-style="normal" >500</text>
<line x1="537.2" y1="384.4" x2="537.2" y2="388" stroke="#595959" stroke-width="1.3" />
<text x="537.2" y="401.0" font-size="11.2" fill="#595959" text-anchor="middle" font-weight="normal" font-style="normal" >1,000</text>
<line x1="603.8" y1="384.4" x2="603.8" y2="388" stroke="#595959" stroke-width="1.3" />
<text x="603.8" y="401.0" font-size="11.2" fill="#595959" text-anchor="middle" font-weight="normal" font-style="normal" >1,500</text>
<line x1="670.4" y1="384.4" x2="670.4" y2="388" stroke="#595959" stroke-width="1.3" />
<text x="670.4" y="401.0" font-size="11.2" fill="#595959" text-anchor="middle" font-weight="normal" font-style="normal" >2,000</text>
<line x1="404.0" y1="232.02999999999997" x2="404.0" y2="384.4" stroke="#7a7a7a" stroke-width="1.9" />
<line x1="404.0" y1="384.4" x2="670.4" y2="384.4" stroke="#404040" stroke-width="1.4" />
<text x="537.8" y="410.0" font-size="11.2" fill="#595959" text-anchor="middle" font-weight="normal" font-style="normal" >Time (sec.)</text>
<text x="0" y="0" font-size="11.0" fill="#595959" text-anchor="middle" font-weight="normal" font-style="normal" transform="translate(369.9,322) rotate(-90)">Stress Ratio</text>
<text x="682.3" y="222.5" font-size="12.2" fill="#c00000" text-anchor="end" font-weight="bold" font-style="italic" >(D)</text>
<polyline points="404.3,248.8 404.8,250.0 405.3,251.8 405.8,252.6 407.2,254.3 408.7,255.3 410.1,256.3 411.3,256.9 412.5,256.6 413.8,257.1 415.0,257.0 416.2,257.2 417.4,257.6 418.7,258.1 420.0,257.6 421.3,257.8 422.6,258.2 423.8,258.6 425.1,258.4 426.4,258.3 427.7,258.9 429.0,258.2 430.3,259.0 431.5,258.6 432.8,258.5 434.1,258.6 435.3,258.9 436.6,259.4 437.8,258.9 439.1,259.4 440.4,259.3 441.7,259.0 443.0,259.1 444.3,258.6 445.5,258.5 446.8,258.6 448.1,258.9 449.4,258.6 450.7,258.4 451.9,258.8 453.1,258.7 454.3,258.7 455.5,259.2 456.7,259.2 457.9,258.9 459.1,259.2 460.4,259.3 461.6,259.7 462.8,259.6 464.0,259.3 465.2,260.0 466.4,259.3 467.6,259.7 468.8,260.1 470.0,259.6 471.3,259.8 472.6,259.3 473.9,259.8 475.2,259.8 476.5,259.6 477.8,259.8 479.1,259.2 480.4,259.5 481.7,259.3 482.9,259.3 484.2,259.3 485.4,259.7 486.7,259.9 487.9,259.5 489.2,259.8 490.4,259.3 491.7,260.0 492.9,260.0 494.2,260.4 495.4,260.3 496.7,259.9 497.9,260.0 499.2,260.4 500.4,259.8 501.7,260.2 502.9,260.0 504.2,260.0 505.4,260.0 506.6,260.7 507.9,260.1 509.1,260.3 510.4,260.5 511.6,260.9 512.8,260.3 514.1,260.6 515.3,260.8 516.6,261.1 517.8,261.1 519.0,261.2 520.3,260.7 521.5,260.8 522.8,260.8 524.0,261.3 525.3,261.3 526.6,260.5 527.8,260.5 529.1,260.5 530.4,260.4 531.7,260.6 533.0,260.6 534.3,260.2 535.5,259.9 536.8,260.2 538.1,260.1 539.4,260.3 540.6,260.6 541.9,260.4 543.1,260.2 544.4,260.3 545.6,260.4 546.9,259.8 548.1,260.6 549.4,260.5 550.7,260.5 551.9,260.5 553.2,260.1 554.4,260.1 555.7,259.8 556.9,260.3 558.2,259.8 559.4,259.8 560.7,259.9 561.9,259.9 563.2,260.1 564.5,259.9 565.7,259.9 567.0,260.2 568.2,260.2 569.5,260.5 570.7,260.3 572.0,261.2 573.2,261.1 574.5,260.7 575.8,260.9 577.0,261.1 578.3,261.2 579.5,261.1 580.8,261.8 582.0,262.1 583.3,261.7 584.6,261.7 585.8,261.4 587.1,261.5 588.3,261.8 589.6,261.8 590.8,262.3 592.1,261.8 593.3,261.7 594.6,262.6 595.9,262.3 597.1,262.0 598.4,262.4 599.6,262.0 600.9,262.5 602.1,263.0 603.4,262.9 604.6,262.8 605.9,262.5 607.1,262.6 608.4,262.5 609.6,263.1 610.9,262.9 612.1,263.2 613.4,262.8 614.6,262.8 615.9,263.4 617.1,263.6 618.4,263.5 619.7,263.5 620.9,263.6 622.2,263.5 623.5,263.1 624.7,263.4 626.0,263.3 627.2,263.0 628.5,263.1 629.8,263.3 631.1,263.2 632.4,263.6 633.7,263.8 635.0,263.3 636.2,263.7 637.5,263.7 638.8,263.6 640.1,263.1 641.4,262.9 642.7,262.9 644.0,263.1" fill="none" stroke="#000" stroke-width="2.5" stroke-linejoin="round" stroke-linecap="round" />
<polyline points="404.3,248.4 405.1,249.9 405.8,251.7 406.4,253.3 407.0,254.5 407.5,255.5 408.1,256.9 408.7,258.4 410.1,258.8 411.6,260.4 413.0,261.8 414.2,262.0 415.5,262.3 416.7,262.5 418.0,262.5 419.2,263.4 420.5,263.4 421.7,264.2 422.9,264.5 424.1,264.2 425.4,264.4 426.6,265.1 427.8,265.1 429.0,264.8 430.4,265.1 431.9,265.5 433.4,266.5 434.8,266.8 436.2,267.8 437.7,270.0 438.9,270.9 440.1,271.3 441.3,271.8 442.8,274.1 443.3,275.2 443.7,276.5 444.2,278.8 445.4,279.0 446.6,279.4 447.8,280.3 449.1,280.1 450.4,280.8 451.6,281.0 452.9,280.7 454.2,281.0 455.4,281.3 456.7,281.5 458.0,282.1 459.3,282.0 460.6,282.3 461.9,282.2 463.2,283.0 464.4,282.7 465.7,283.0 467.0,283.2 468.3,283.7 469.6,283.4 470.9,284.1 472.1,283.9 473.4,284.1 474.6,284.3 475.9,284.0 477.1,284.6 478.4,284.6 479.6,284.6 480.9,285.5 482.1,285.1 483.4,285.6 484.6,286.0 485.8,286.0 487.0,285.9 488.2,286.1 489.5,286.3 490.7,286.6 491.9,286.1 493.1,286.6 494.3,286.4 495.6,286.5 496.8,287.1 498.0,287.0 499.2,287.1 500.4,287.4 501.6,287.6 502.9,287.3 504.1,287.6 505.3,287.6 506.5,287.7 507.7,288.0 508.9,287.8 510.1,288.0 511.4,288.1 512.6,288.6 513.8,288.4 515.0,288.7 516.2,288.9 517.5,288.3 518.7,288.7 519.9,289.1 521.1,289.1 522.3,288.6 523.5,288.7 524.8,289.1 526.0,288.8 527.2,289.1 528.4,289.0 529.6,289.8 530.8,290.1 532.0,290.4 533.3,289.9 534.5,290.6 535.7,290.7 536.9,290.4 538.1,291.2 539.3,291.4 540.6,290.8 541.8,291.6 543.0,291.2 544.2,291.4 545.4,291.9 546.6,291.9 547.8,291.4 549.0,291.8 550.3,292.0 551.5,291.9 552.7,291.9 553.9,292.3" fill="none" stroke="#ff0000" stroke-width="2.3" stroke-linejoin="round" stroke-linecap="round" />
<circle cx="554.2" cy="295.5" r="1.15" fill="#ff0000"/>
<circle cx="554.6" cy="299.5" r="1.15" fill="#ff0000"/>
<circle cx="555.5" cy="302.6" r="1.15" fill="#ff0000"/>
<circle cx="558.2" cy="304.2" r="1.15" fill="#ff0000"/>
<circle cx="560.7" cy="305.0" r="1.15" fill="#ff0000"/>
<circle cx="561.3" cy="308.8" r="1.15" fill="#ff0000"/>
<circle cx="561.5" cy="313.2" r="1.15" fill="#ff0000"/>
<circle cx="561.6" cy="317.5" r="1.15" fill="#ff0000"/>
<circle cx="561.8" cy="321.9" r="1.15" fill="#ff0000"/>
<circle cx="562.0" cy="326.2" r="1.15" fill="#ff0000"/>
<circle cx="562.1" cy="330.6" r="1.15" fill="#ff0000"/>
<circle cx="562.3" cy="334.9" r="1.15" fill="#ff0000"/>
<circle cx="562.5" cy="339.3" r="1.15" fill="#ff0000"/>
<circle cx="562.6" cy="343.6" r="1.15" fill="#ff0000"/>
<circle cx="562.8" cy="348.0" r="1.15" fill="#ff0000"/>
<circle cx="563.0" cy="352.3" r="1.15" fill="#ff0000"/>
<circle cx="563.1" cy="356.7" r="1.15" fill="#ff0000"/>
<circle cx="563.3" cy="361.0" r="1.15" fill="#ff0000"/>
<line x1="589.7" y1="294.9" x2="620" y2="294.9" stroke="#000" stroke-width="2" />
<circle cx="590.3" cy="323.5" r="1" fill="#ff0000"/>
<circle cx="595.0" cy="323.5" r="1" fill="#ff0000"/>
<circle cx="599.8" cy="323.5" r="1" fill="#ff0000"/>
<circle cx="604.5" cy="323.5" r="1" fill="#ff0000"/>
<circle cx="609.3" cy="323.5" r="1" fill="#ff0000"/>
<circle cx="614.0" cy="323.5" r="1" fill="#ff0000"/>
<circle cx="618.8" cy="323.5" r="1" fill="#ff0000"/>
<text x="623.2" y="298.4" font-size="11.4" fill="#595959" text-anchor="start" font-weight="normal" font-style="normal" >Intact</text>
<text x="623.2" y="310.9" font-size="11.4" fill="#595959" text-anchor="start" font-weight="normal" font-style="normal" >Specimen</text>
<text x="623.2" y="326.8" font-size="11.4" fill="#595959" text-anchor="start" font-weight="normal" font-style="normal" >Failed</text>
<text x="623.2" y="339.5" font-size="11.4" fill="#595959" text-anchor="start" font-weight="normal" font-style="normal" >Specimen</text>
</svg></body></html>
